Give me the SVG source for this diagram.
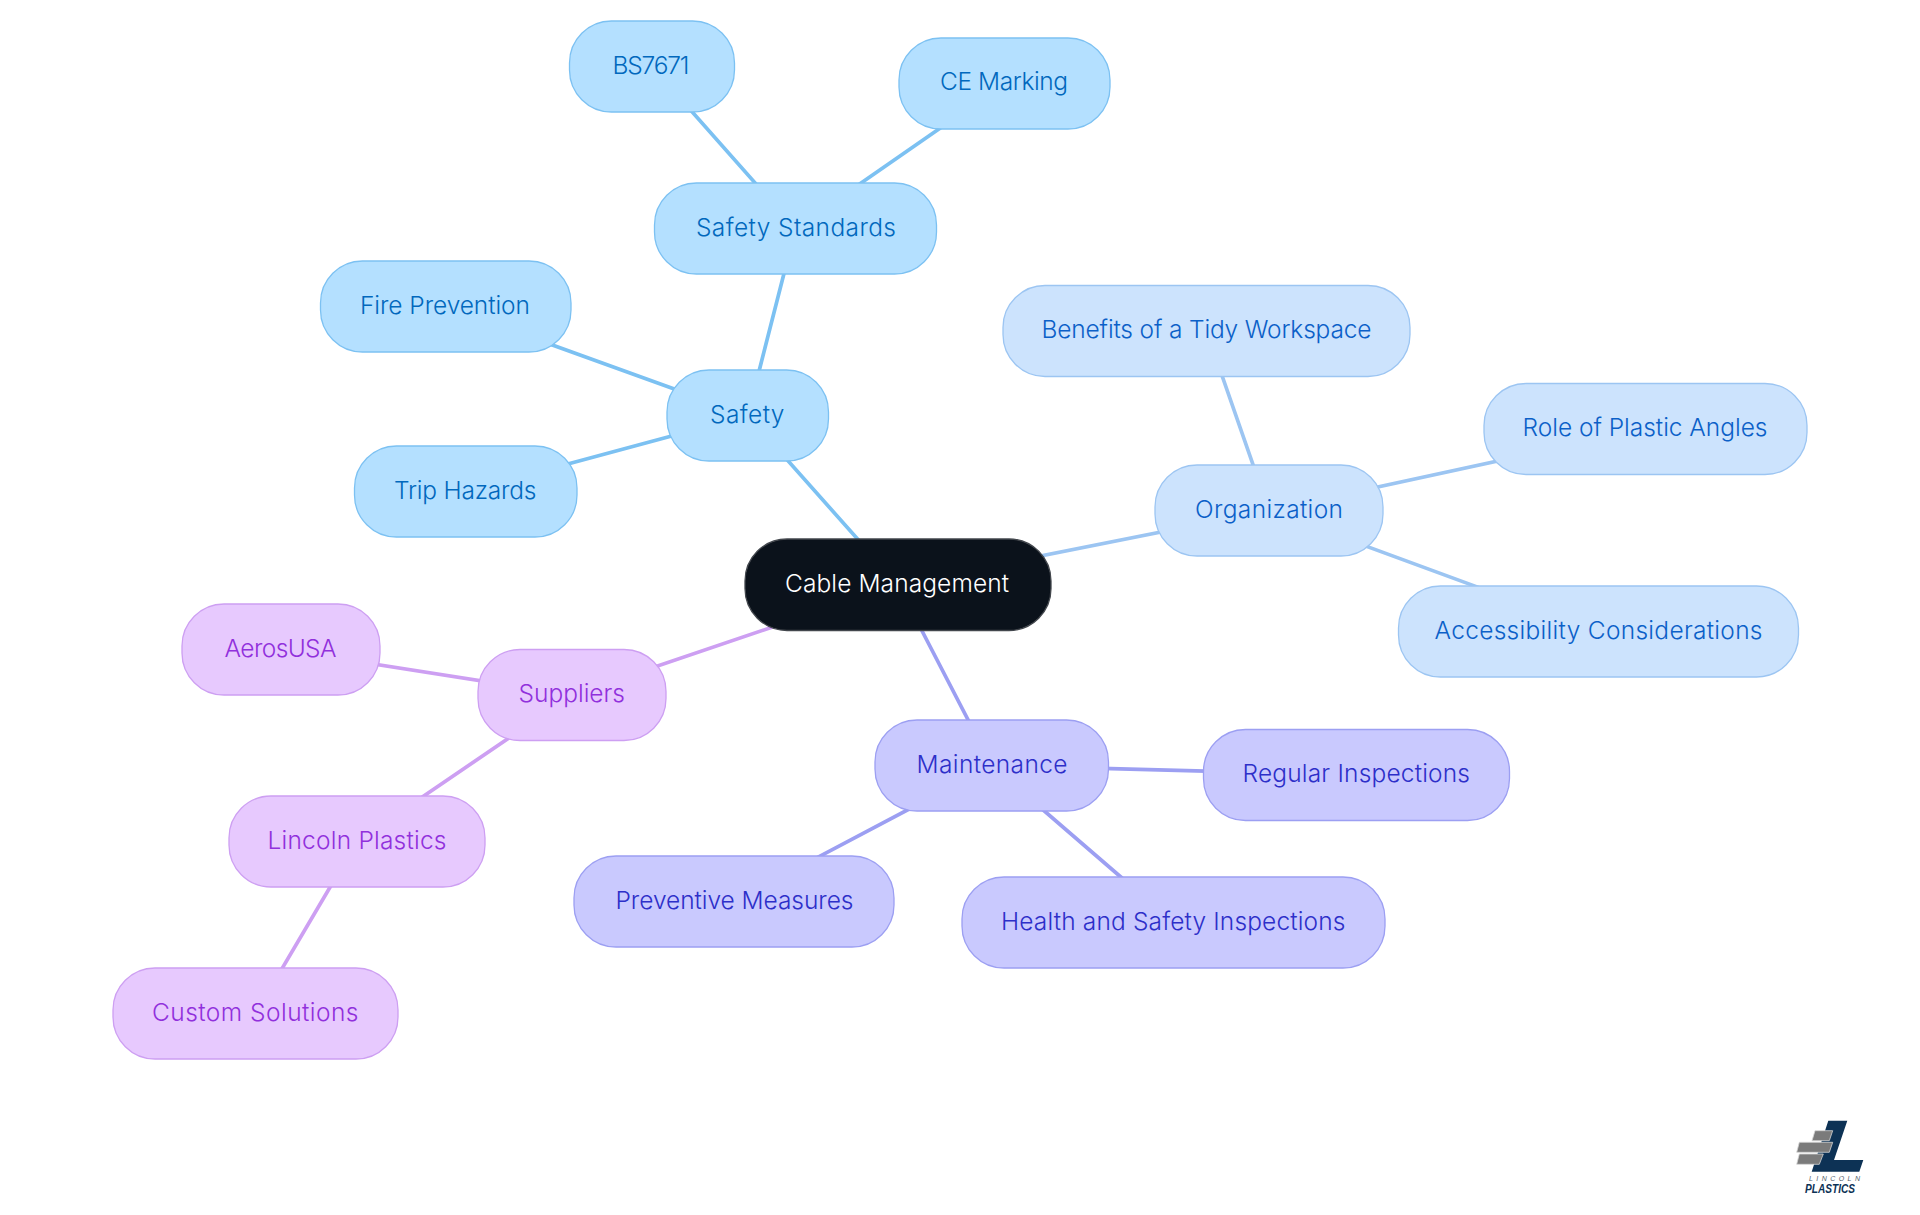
<svg xmlns="http://www.w3.org/2000/svg" width="1920" height="1215" viewBox="0 0 1920 1215">
<style>
text{font-family:"Inter","Liberation Sans",sans-serif;font-size:24.5px;font-weight:350}
rect.n{stroke-width:1.3}
.e{stroke-width:3.7;fill:none;stroke-linecap:round}
.root rect{fill:#0b121b;stroke:#43474d}.root text{fill:#fff}
.a rect{fill:#b4e0ff;stroke:#7cc1f2}.a text{fill:#0168bd}.ea{stroke:#7cc1f2}
.b rect{fill:#cce3fd;stroke:#9cc5f2}.b text{fill:#0b60c8}.eb{stroke:#9cc5f2}
.c rect{fill:#c9c9fe;stroke:#9c9ff2}.c text{fill:#2d2fc9}.ec{stroke:#9c9ff2}
.d rect{fill:#e7c9fe;stroke:#cd9ff2}.d text{fill:#9130dc}.ed{stroke:#cd9ff2}
.logo-bar{fill:#7b7b7b;stroke:#d4d4d4;stroke-width:.8}
</style>
<rect width="1920" height="1215" fill="#fff"/>
<g id="connectors">
<line class="e ea" x1="898" y1="584.5" x2="747.7" y2="415.5"/>
<line class="e ea" x1="747.7" y1="415.5" x2="795.5" y2="228.5"/>
<line class="e ea" x1="795.5" y1="228.5" x2="652" y2="66.5"/>
<line class="e ea" x1="795.5" y1="228.5" x2="1004.5" y2="83.5"/>
<line class="e ea" x1="747.7" y1="415.5" x2="445.7" y2="306.5"/>
<line class="e ea" x1="747.7" y1="415.5" x2="465.7" y2="491.5"/>
<line class="e eb" x1="898" y1="584.5" x2="1269" y2="510.5"/>
<line class="e eb" x1="1269" y1="510.5" x2="1206.5" y2="331"/>
<line class="e eb" x1="1269" y1="510.5" x2="1645.5" y2="429"/>
<line class="e eb" x1="1269" y1="510.5" x2="1598.5" y2="631.5"/>
<line class="e ec" x1="898" y1="584.5" x2="991.7" y2="765.5"/>
<line class="e ec" x1="991.7" y1="765.5" x2="734" y2="901.5"/>
<line class="e ec" x1="991.7" y1="765.5" x2="1173.5" y2="922.5"/>
<line class="e ec" x1="991.7" y1="765.5" x2="1356.5" y2="775"/>
<line class="e ed" x1="898" y1="584.5" x2="572" y2="695"/>
<line class="e ed" x1="572" y1="695" x2="281" y2="649.5"/>
<line class="e ed" x1="572" y1="695" x2="357" y2="841.5"/>
<line class="e ed" x1="357" y1="841.5" x2="255.5" y2="1013.5"/>
</g>
<g id="node-cable-management" class="root"><rect class="n" x="745" y="539" width="306" height="91.5" rx="42"/><text x="785" y="591.7" textLength="224">Cable Management</text></g>
<g id="node-safety" class="a"><rect class="n" x="667" y="370" width="161.5" height="91" rx="42"/><text x="710" y="423" textLength="74.5">Safety</text></g>
<g id="node-safety-standards" class="a"><rect class="n" x="654.5" y="183" width="282" height="91" rx="42"/><text x="696" y="235.7" textLength="200">Safety Standards</text></g>
<g id="node-bs7671" class="a"><rect class="n" x="569.5" y="21" width="165" height="91" rx="42"/><text x="612.5" y="73.6" textLength="77">BS7671</text></g>
<g id="node-ce-marking" class="a"><rect class="n" x="899" y="38" width="211" height="91" rx="42"/><text x="940" y="90" textLength="128">CE Marking</text></g>
<g id="node-fire-prevention" class="a"><rect class="n" x="320.5" y="261" width="250.5" height="91" rx="42"/><text x="360" y="314.3" textLength="170">Fire Prevention</text></g>
<g id="node-trip-hazards" class="a"><rect class="n" x="354.5" y="446" width="222.5" height="91" rx="42"/><text x="394" y="499" textLength="142.5">Trip Hazards</text></g>
<g id="node-organization" class="b"><rect class="n" x="1155" y="465" width="228" height="91" rx="42"/><text x="1195" y="518.3" textLength="148">Organization</text></g>
<g id="node-benefits" class="b"><rect class="n" x="1003" y="285.5" width="407" height="91" rx="42"/><text x="1041.5" y="338" textLength="330">Benefits of a Tidy Workspace</text></g>
<g id="node-role" class="b"><rect class="n" x="1484" y="383.5" width="323" height="91" rx="42"/><text x="1522.5" y="436" textLength="245">Role of Plastic Angles</text></g>
<g id="node-accessibility" class="b"><rect class="n" x="1398.5" y="586" width="400" height="91" rx="42"/><text x="1434.5" y="638.7" textLength="328">Accessibility Considerations</text></g>
<g id="node-maintenance" class="c"><rect class="n" x="875" y="720" width="233.5" height="91" rx="42"/><text x="916.5" y="773.3" textLength="151">Maintenance</text></g>
<g id="node-preventive" class="c"><rect class="n" x="574" y="856" width="320" height="91" rx="42"/><text x="615.5" y="908.7" textLength="238">Preventive Measures</text></g>
<g id="node-health" class="c"><rect class="n" x="962" y="877" width="423" height="91" rx="42"/><text x="1001" y="930" textLength="344.5">Health and Safety Inspections</text></g>
<g id="node-regular" class="c"><rect class="n" x="1203.5" y="729.5" width="306" height="91" rx="42"/><text x="1242.5" y="782" textLength="227.5">Regular Inspections</text></g>
<g id="node-suppliers" class="d"><rect class="n" x="478" y="649.5" width="188" height="91" rx="42"/><text x="518.5" y="701.7" textLength="106.5">Suppliers</text></g>
<g id="node-aerosusa" class="d"><rect class="n" x="182" y="604" width="198" height="91" rx="42"/><text x="224.5" y="657" textLength="112">AerosUSA</text></g>
<g id="node-lincoln" class="d"><rect class="n" x="229" y="796" width="256" height="91" rx="42"/><text x="267.5" y="849" textLength="179">Lincoln Plastics</text></g>
<g id="node-custom" class="d"><rect class="n" x="113" y="968" width="285" height="91" rx="42"/><text x="152" y="1021.3" textLength="206.5">Custom Solutions</text></g>
<g id="logo">
<polygon points="1828.3,1120.7 1847.3,1120.7 1834,1160 1863.3,1160 1859.3,1171.7 1811.7,1171.7" fill="#0d3255"/>
<polygon class="logo-bar" points="1815,1130.7 1832.7,1130.7 1829.3,1140.7 1812,1140.7"/>
<polygon class="logo-bar" points="1799.3,1142.3 1832.7,1142.3 1829.3,1152.3 1796.7,1152.3"/>
<polygon class="logo-bar" points="1799.3,1154 1823.3,1154 1819.3,1164.3 1796.7,1164.3"/>
<text x="1809" y="1181" fill="#55606c" style="font-family:'Liberation Sans',sans-serif;font-size:7px;font-style:italic;font-weight:400" textLength="51">LINCOLN</text>
<text x="1805" y="1192.7" fill="#0d3255" style="font-family:'Liberation Sans',sans-serif;font-size:12.5px;font-style:italic;font-weight:700" textLength="50" lengthAdjust="spacingAndGlyphs">PLASTICS</text>
</g>
</svg>
